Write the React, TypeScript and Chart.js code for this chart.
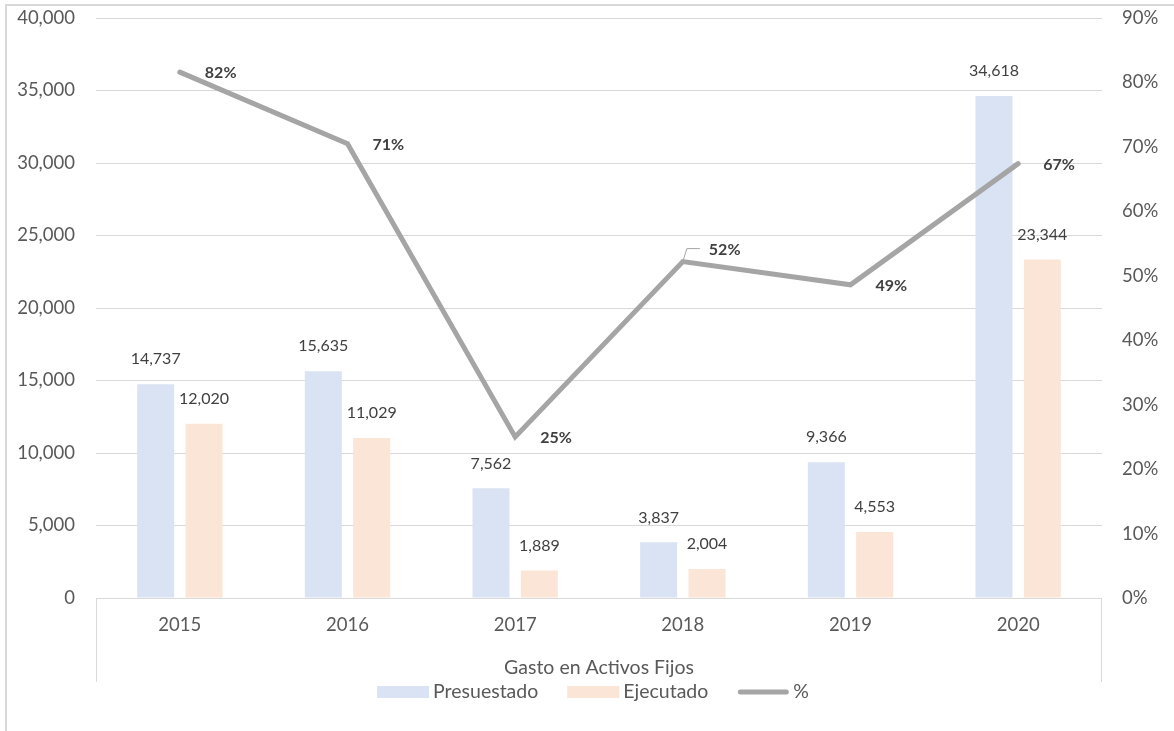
import React, { useEffect, useRef } from 'react';
import { Chart, registerables } from 'chart.js';

Chart.register(...registerables);

const categories = ['2015', '2016', '2017', '2018', '2019', '2020'];
const presupuestado = [14737, 15635, 7562, 3837, 9366, 34618];
const ejecutado = [12020, 11029, 1889, 2004, 4553, 23344];
const porcentaje = [81.6, 70.5, 25.0, 52.2, 48.6, 67.4];
const seriesNames = ['Presuestado', 'Ejecutado', '%'];
const groupLabel = 'Gasto en Activos Fijos';
const leftMax = 40000;
const leftStep = 5000;
const rightMax = 90;
const rightStep = 10;

const FONT = 'Lato, "Open Sans", sans-serif';
const BLUE = '#DAE3F3';
const ORANGE = '#FBE5D6';
const GRAY = '#A5A5A5';
const GRID = '#D9D9D9';
const AXIS_TXT = '#595959';
const LABEL_TXT = '#404040';

const fmt = (v: number) => Math.round(v).toLocaleString('en-US');

const decor = {
  id: 'decor',
  beforeDraw(chart: any) {
    const { ctx, width, height } = chart;
    ctx.save();
    ctx.fillStyle = '#ffffff';
    ctx.fillRect(0, 0, width, height);
    ctx.strokeStyle = GRID;
    ctx.lineWidth = 2;
    ctx.beginPath();
    ctx.moveTo(6, height);
    ctx.lineTo(6, 5);
    ctx.lineTo(width, 5);
    ctx.stroke();
    ctx.restore();
  },
  afterDatasetsDraw(chart: any) {
    const { ctx } = chart;
    ctx.save();
    // bar value labels
    ctx.font = `16px ${FONT}`;
    ctx.fillStyle = LABEL_TXT;
    ctx.textAlign = 'center';
    ctx.textBaseline = 'middle';
    [0, 1].forEach((di) => {
      const meta = chart.getDatasetMeta(di);
      meta.data.forEach((bar: any, i: number) => {
        const v = chart.data.datasets[di].data[i] as number;
        ctx.fillText(fmt(v), bar.x, bar.y - 25);
      });
    });
    // line labels
    const lmeta = chart.getDatasetMeta(2);
    ctx.font = `bold 16px ${FONT}`;
    ctx.textAlign = 'left';
    lmeta.data.forEach((pt: any, i: number) => {
      const v = chart.data.datasets[2].data[i] as number;
      const txt = `${Math.round(v)}%`;
      if (i === 3) {
        ctx.strokeStyle = GRAY;
        ctx.lineWidth = 1;
        ctx.beginPath();
        ctx.moveTo(pt.x, pt.y);
        ctx.lineTo(pt.x + 4, pt.y - 13);
        ctx.lineTo(pt.x + 17, pt.y - 13);
        ctx.stroke();
        ctx.fillText(txt, pt.x + 26, pt.y - 12);
      } else {
        ctx.fillText(txt, pt.x + 25, pt.y + 1);
      }
    });
    ctx.restore();
  },
  afterDraw(chart: any) {
    const { ctx, chartArea } = chart;
    const { left, right, bottom } = chartArea;
    ctx.save();
    ctx.strokeStyle = GRID;
    ctx.lineWidth = 1;
    ctx.beginPath();
    ctx.moveTo(left + 0.5, bottom);
    ctx.lineTo(left + 0.5, bottom + 84);
    ctx.moveTo(right - 0.5, bottom);
    ctx.lineTo(right - 0.5, bottom + 84);
    ctx.stroke();

    const cx = (left + right) / 2;
    ctx.font = `19.5px ${FONT}`;
    ctx.fillStyle = AXIS_TXT;
    ctx.textAlign = 'center';
    ctx.textBaseline = 'middle';
    ctx.fillText(groupLabel, cx, bottom + 70);

    // legend
    const ly = bottom + 94;
    const boxW = 52;
    const gapText = 4;
    const gapItem = 29;
    const widths = seriesNames.map((n) => ctx.measureText(n).width);
    const total = widths.reduce((a, b) => a + b, 0) + 3 * (boxW + gapText) + 2 * gapItem;
    let x = cx - total / 2 - 6;
    ctx.textAlign = 'left';
    seriesNames.forEach((n, i) => {
      if (i < 2) {
        ctx.fillStyle = i === 0 ? BLUE : ORANGE;
        ctx.fillRect(x, ly - 6, boxW, 12);
      } else {
        ctx.strokeStyle = GRAY;
        ctx.lineWidth = 5;
        ctx.lineCap = 'round';
        ctx.beginPath();
        ctx.moveTo(x + 3, ly);
        ctx.lineTo(x + boxW - 3, ly);
        ctx.stroke();
      }
      ctx.fillStyle = AXIS_TXT;
      ctx.fillText(n, x + boxW + gapText, ly);
      x += boxW + gapText + widths[i] + gapItem;
    });
    ctx.restore();
  },
};

export default function App() {
  const ref = useRef<HTMLCanvasElement>(null);
  useEffect(() => {
    if (!ref.current) return;
    const chart = new Chart(ref.current, {
      type: 'bar',
      data: {
        labels: categories,
        datasets: [
          {
            type: 'bar',
            label: seriesNames[0],
            data: presupuestado,
            backgroundColor: BLUE,
            yAxisID: 'y',
            categoryPercentage: 0.577,
            barPercentage: 0.765,
            order: 2,
          },
          {
            type: 'bar',
            label: seriesNames[1],
            data: ejecutado,
            backgroundColor: ORANGE,
            yAxisID: 'y',
            categoryPercentage: 0.577,
            barPercentage: 0.765,
            order: 2,
          },
          {
            type: 'line',
            label: seriesNames[2],
            data: porcentaje,
            borderColor: GRAY,
            borderWidth: 5,
            pointRadius: 0,
            pointHoverRadius: 0,
            tension: 0,
            borderCapStyle: 'round',
            yAxisID: 'y1',
            order: 1,
          } as any,
        ],
      },
      options: {
        responsive: false,
        animation: false,
        devicePixelRatio: 1,
        layout: { padding: { left: 0, right: 0, top: 18, bottom: 0 } },
        plugins: { legend: { display: false }, tooltip: { enabled: false } },
        scales: {
          x: {
            grid: { display: false, drawTicks: false },
            border: { display: false },
            ticks: { color: AXIS_TXT, font: { family: FONT, size: 18.5 }, padding: 16, maxRotation: 0 },
            afterFit: (s: any) => { s.height = 133; },
          },
          y: {
            position: 'left',
            min: 0,
            max: leftMax,
            ticks: {
              stepSize: leftStep,
              color: AXIS_TXT,
              font: { family: FONT, size: 18.5 },
              padding: 21,
              callback: (v: any) => fmt(Number(v)),
            },
            grid: { color: GRID, lineWidth: 1, drawTicks: false },
            border: { display: false },
            afterFit: (s: any) => { s.width = 96; s.paddingTop = 0; s.paddingBottom = 0; },
          },
          y1: {
            position: 'right',
            min: 0,
            max: rightMax,
            ticks: {
              stepSize: rightStep,
              color: AXIS_TXT,
              font: { family: FONT, size: 18.5 },
              padding: 20,
              callback: (v: any) => `${v}%`,
            },
            grid: { display: false, drawTicks: false },
            border: { display: false },
            afterFit: (s: any) => { s.width = 72; s.paddingTop = 0; s.paddingBottom = 0; },
          },
        },
      },
      plugins: [decor],
    });
    return () => chart.destroy();
  }, []);
  return (
    <div style={{ position: 'absolute', left: 0, top: 0, width: 1174, height: 731, background: '#fff' }}>
      <canvas ref={ref} width={1174} height={731} />
    </div>
  );
}
